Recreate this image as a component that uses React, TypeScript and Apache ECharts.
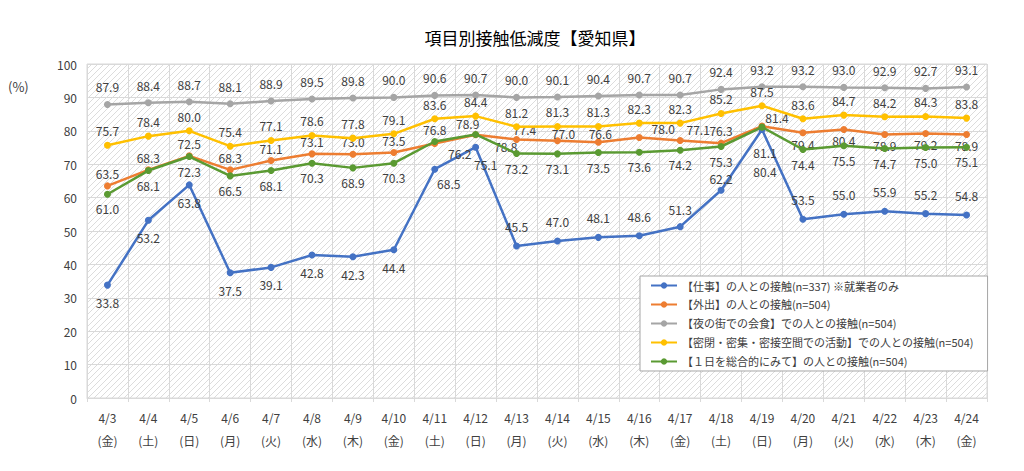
import React, { useEffect, useRef } from "react";
import * as echarts from "echarts";

const dates = ["4/3","4/4","4/5","4/6","4/7","4/8","4/9","4/10","4/11","4/12","4/13","4/14","4/15","4/16","4/17","4/18","4/19","4/20","4/21","4/22","4/23","4/24"];
const weekdays = ["金","土","日","月","火","水","木","金","土","日","月","火","水","木","金","土","日","月","火","水","木","金"];

const work = [33.8,53.2,63.8,37.5,39.1,42.8,42.3,44.4,68.5,75.1,45.5,47.0,48.1,48.6,51.3,62.2,80.4,53.5,55.0,55.9,55.2,54.8];
const outing = [63.5,68.3,72.5,68.3,71.1,73.1,73.0,73.5,76.2,78.8,77.4,77.0,76.6,78.0,77.1,76.3,81.4,79.4,80.4,78.9,79.2,78.9];
const nightlife = [87.9,88.4,88.7,88.1,88.9,89.5,89.8,90.0,90.6,90.7,90.0,90.1,90.4,90.7,90.7,92.4,93.2,93.2,93.0,92.9,92.7,93.1];
const closed = [75.7,78.4,80.0,75.4,77.1,78.6,77.8,79.1,83.6,84.4,81.2,81.3,81.3,82.3,82.3,85.2,87.5,83.6,84.7,84.2,84.3,83.8];
const wholeDay = [61.0,68.1,72.3,66.5,68.1,70.3,68.9,70.3,76.8,78.9,73.2,73.1,73.5,73.6,74.2,75.3,81.1,74.4,75.5,74.7,75.0,75.1];

const seriesNames = [
  "【仕事】の人との接触(n=337) ※就業者のみ",
  "【外出】の人との接触(n=504)",
  "【夜の街での会食】での人との接触(n=504)",
  "【密閉・密集・密接空間での活動】での人との接触(n=504)",
  "【１日を総合的にみて】の人との接触(n=504)",
];
const seriesData = [work, outing, nightlife, closed, wholeDay];
const colors = ["#4472C4", "#ED7D31", "#A5A5A5", "#FFC000", "#5A9A32"];

// label placement (style only): default per series, plus per-point overrides [position, distance, dx]
type LP = [string, number, number];
const defaultLabel: LP[] = [
  ["bottom", 8, 0],
  ["top", 3, 0],
  ["top", 8, 0],
  ["top", 5, 0],
  ["bottom", 5, 0],
];
const labelOverrides: Record<number, Record<number, LP>> = {
  0: {
    8: ["bottom", 5, 14], 9: ["bottom", 8, 10],
    10: ["top", 10, 0], 11: ["top", 10, 0], 12: ["top", 10, 0], 13: ["top", 10, 0],
    14: ["top", 8, 0], 15: ["top", 2, 0], 16: ["bottom", 33, 3],
    17: ["top", 10, 0], 18: ["top", 10, 0], 19: ["top", 10, 0], 20: ["top", 10, 0], 21: ["top", 10, 0],
  },
  1: {
    8: ["bottom", 0, 25], 9: ["bottom", 2, 30], 10: ["top", 0, 8], 11: ["top", -2, 6],
    12: ["top", -1, 2], 13: ["top", -1, 24], 14: ["top", 1, 18], 15: ["top", 3, 0],
    16: ["top", -1, 15], 17: ["bottom", 2, 0], 18: ["bottom", 2, 0], 19: ["bottom", 2, 0],
    20: ["bottom", 2, 0], 21: ["bottom", 2, 0],
  },
  4: {
    8: ["top", 2, 0], 9: ["top", 1, -8], 16: ["bottom", 16, 3],
  },
};

const FONT = "'Noto Sans CJK JP', 'Noto Sans', sans-serif";

function makeHatch(): HTMLCanvasElement {
  const c = document.createElement("canvas");
  c.width = 6;
  c.height = 6;
  const ctx = c.getContext("2d")!;
  ctx.fillStyle = "#ffffff";
  ctx.fillRect(0, 0, 6, 6);
  ctx.strokeStyle = "#dcdcdc";
  ctx.lineWidth = 1;
  ctx.beginPath();
  ctx.moveTo(0, 6);
  ctx.lineTo(6, 0);
  ctx.moveTo(-1, 1);
  ctx.lineTo(1, -1);
  ctx.moveTo(5, 7);
  ctx.lineTo(7, 5);
  ctx.stroke();
  return c;
}

export default function App() {
  const ref = useRef<HTMLDivElement>(null);
  useEffect(() => {
    if (!ref.current) return;
    const chart = echarts.init(ref.current, null, { renderer: "svg" });
    const option: any = {
      animation: false,
      backgroundColor: "#ffffff",
      title: {
        text: "項目別接触低減度【愛知県】",
        left: 530,
        top: 24,
        textAlign: "center",
        textStyle: { fontFamily: FONT, fontSize: 17, fontWeight: "normal", color: "#000000" },
      },
      graphic: [
        {
          type: "text",
          left: 8,
          top: 80,
          style: { text: "(%)", fontSize: 13, fontFamily: FONT, fill: "#404040" },
        },
      ],
      grid: {
        left: 87,
        right: 37,
        top: 64,
        bottom: 73,
        show: true,
        backgroundColor: { image: makeHatch(), repeat: "repeat" },
        borderColor: "#d9d9d9",
        borderWidth: 1,
      },
      legend: {
        orient: "vertical",
        left: 640,
        top: 276,
        itemGap: 8,
        itemWidth: 26,
        itemHeight: 8,
        padding: [4, 14, 4, 10],
        backgroundColor: "#ffffff",
        borderColor: "#a6a6a6",
        borderWidth: 1,
        borderRadius: 0,
        textStyle: { fontFamily: FONT, fontSize: 11, color: "#404040" },
        data: seriesNames,
      },
      xAxis: {
        type: "category",
        data: dates.map((d, i) => d + "\n(" + weekdays[i] + ")"),
        boundaryGap: true,
        axisLine: { lineStyle: { color: "#d9d9d9" } },
        axisTick: { show: true, length: 4, lineStyle: { color: "#d9d9d9" } },
        splitLine: { show: true, interval: 0, lineStyle: { color: "#d9d9d9" } },
        axisLabel: {
          interval: 0,
          fontFamily: FONT,
          fontSize: 12,
          color: "#404040",
          lineHeight: 23,
          margin: 8,
        },
      },
      yAxis: {
        type: "value",
        min: 0,
        max: 100,
        interval: 10,
        axisLine: { show: false },
        axisTick: { show: false },
        splitLine: { show: true, lineStyle: { color: "#d9d9d9" } },
        axisLabel: { fontFamily: FONT, fontSize: 12, color: "#404040", margin: 10 },
      },
      series: seriesData.map((d, i) => ({
        name: seriesNames[i],
        type: "line",
        data: d.map((v, j) => {
          const lp = (labelOverrides[i] && labelOverrides[i][j]) || defaultLabel[i];
          return {
            value: v,
            label: { position: lp[0], distance: lp[1], offset: [lp[2], 0] },
          };
        }),
        color: colors[i],
        symbol: "circle",
        symbolSize: 7,
        lineStyle: { width: 2.5, color: colors[i] },
        itemStyle: { color: colors[i] },
        label: {
          show: true,
          fontFamily: FONT,
          fontSize: 12,
          color: "#404040",
          formatter: (p: any) => Number(p.value).toFixed(1),
        },
        z: 2 + i,
      })),
    };
    chart.setOption(option);
    return () => chart.dispose();
  }, []);
  return (
    <div
      ref={ref}
      style={{ position: "absolute", left: 0, top: 0, width: 1024, height: 471 }}
    />
  );
}
